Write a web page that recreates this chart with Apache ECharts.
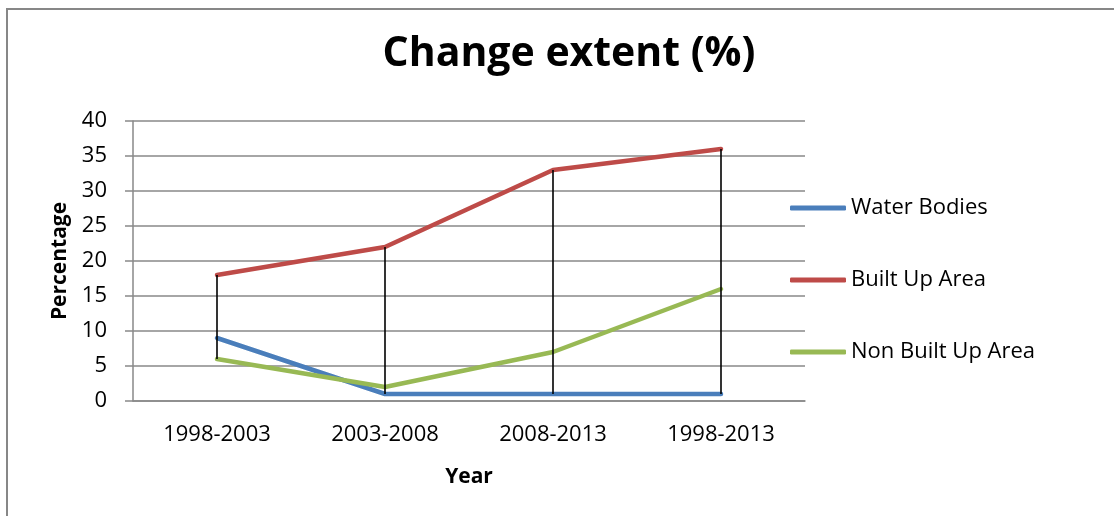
<!DOCTYPE html>
<html>
<head>
<meta charset="utf-8">
<script src="https://cdn.jsdelivr.net/npm/echarts@6/dist/echarts.min.js"></script>
<style>
  html, body { margin: 0; padding: 0; background: #fff; }
  #chart { width: 1114px; height: 516px; }
</style>
</head>
<body>
<div id="chart"></div>
<script>
const categories = ['1998-2003', '2003-2008', '2008-2013', '1998-2013'];
const waterBodies = [9, 1, 1, 1];
const builtUpArea = [18, 22, 33, 36];
const nonBuiltUpArea = [6, 2, 7, 16];
const seriesNames = ['Water Bodies', 'Built Up Area', 'Non Built Up Area'];

const FONT = '"Open Sans", "Liberation Sans", sans-serif';
const allSeries = [waterBodies, builtUpArea, nonBuiltUpArea];
const dropData = categories.map((c, i) => {
  const vals = allSeries.map(s => s[i]);
  return [i, Math.min(...vals), Math.max(...vals)];
});

const chart = echarts.init(document.getElementById('chart'), null, { renderer: 'canvas' });
const lineColors = ['#4A7EBB', '#BE4B48', '#98B954'];

chart.setOption({
  animation: false,
  backgroundColor: '#fff',
  graphic: [{
    type: 'rect',
    shape: { x: 7, y: 9, width: 1130, height: 530 },
    style: { fill: 'none', stroke: '#878787', lineWidth: 2 },
    silent: true
  }],
  title: {
    text: 'Change extent (%)',
    left: 569,
    textAlign: 'center',
    top: 34,
    padding: 0,
    textStyle: { fontFamily: FONT, fontSize: 41, fontWeight: 'bold', color: '#000' }
  },
  legend: {
    data: seriesNames,
    orient: 'vertical',
    left: 790,
    top: 197,
    padding: 0,
    itemWidth: 56,
    itemHeight: 5,
    itemGap: 50,
    icon: 'roundRect',
    textStyle: { fontFamily: FONT, fontSize: 22, color: '#000', lineHeight: 22 }
  },
  grid: { left: 133, right: 309, top: 121, bottom: 115 },
  xAxis: {
    type: 'category',
    data: categories,
    boundaryGap: true,
    name: 'Year',
    nameLocation: 'middle',
    nameGap: 66,
    nameTextStyle: { fontFamily: FONT, fontSize: 21, fontWeight: 'bold', color: '#000' },
    axisLine: { lineStyle: { color: '#898989', width: 1.5 } },
    axisTick: { show: false },
    axisLabel: { fontFamily: FONT, fontSize: 22, color: '#000', margin: 23 },
    splitLine: { show: false }
  },
  yAxis: {
    type: 'value',
    min: 0,
    max: 40,
    interval: 5,
    name: 'Percentage',
    nameLocation: 'middle',
    nameGap: 62,
    nameTextStyle: { fontFamily: FONT, fontSize: 21, fontWeight: 'bold', color: '#000' },
    axisLine: { show: true, lineStyle: { color: '#898989', width: 1.5 } },
    axisTick: { show: true, length: 8, lineStyle: { color: '#898989', width: 1.5 } },
    axisLabel: { fontFamily: FONT, fontSize: 22, color: '#000', margin: 26 },
    splitLine: { show: true, lineStyle: { color: '#898989', width: 1.5 } }
  },
  series: [
    {
      name: seriesNames[0], type: 'line', data: waterBodies, symbol: 'none',
      color: lineColors[0], lineStyle: { width: 4.5, color: lineColors[0], cap: 'round' }, z: 3
    },
    {
      name: seriesNames[1], type: 'line', data: builtUpArea, symbol: 'none',
      color: lineColors[1], lineStyle: { width: 4.5, color: lineColors[1], cap: 'round' }, z: 3
    },
    {
      name: seriesNames[2], type: 'line', data: nonBuiltUpArea, symbol: 'none',
      color: lineColors[2], lineStyle: { width: 4.5, color: lineColors[2], cap: 'round' }, z: 3
    },
    {
      name: 'dropLines', type: 'custom', data: dropData, z: 5, silent: true,
      encode: { x: 0, y: [1, 2] },
      renderItem: function (params, api) {
        const p1 = api.coord([api.value(0), api.value(1)]);
        const p2 = api.coord([api.value(0), api.value(2)]);
        return {
          type: 'line',
          shape: { x1: p1[0], y1: p1[1], x2: p2[0], y2: p2[1] },
          style: { stroke: '#000', lineWidth: 1.6 }
        };
      }
    }
  ]
});
</script>
</body>
</html>
